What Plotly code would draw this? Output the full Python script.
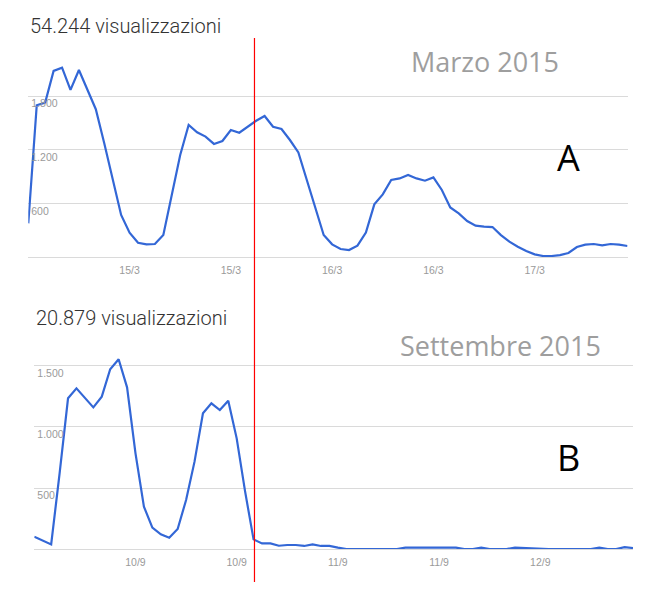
#!/usr/bin/env python3
"""
Two hourly view charts (March vs September 2015) stacked, with a red marker line.
"""

import plotly.graph_objects as go
from plotly.subplots import make_subplots

# Hourly views, 72 hours per chart
HOURS = list(range(72))

VIEWS_MARZO = [
    377, 1700, 1730, 2085, 2122, 1872, 2096, 1883, 1656, 1275,
    863, 471, 273, 160, 142, 146, 247, 695, 1143, 1480,
    1398, 1349, 1267, 1300, 1423, 1393, 1460, 1527, 1580, 1460,
    1434, 1311, 1172, 863, 553, 246, 142, 90, 78, 127,
    273, 590, 702, 863, 881, 919, 881, 855, 892, 751,
    556, 489, 403, 351, 340, 336, 246, 172, 116, 67,
    30, 11, 11, 22, 45, 112, 138, 146, 131, 146,
    138, 123,
]

VIEWS_SETTEMBRE = [
    101, 71, 38, 620, 1235, 1317, 1240, 1161, 1249, 1473,
    1555, 1325, 784, 347, 175, 120, 93, 164, 402, 716,
    1112, 1194, 1139, 1216, 907, 470, 79, 46, 46, 27,
    33, 33, 25, 38, 25, 25, 11, 0, 0, 0,
    0, 0, 0, 0, 11, 11, 14, 14, 15, 11,
    11, 0, 0, 11, 0, 0, 0, 11, 8, 0,
    0, 0, 0, 0, 0, 0, 0, 11, 0, 0,
    15, 8,
]

# Tick positions / labels (every 12 hours)
TICK_HOURS = [12, 24, 36, 48, 60]
TICKS_MARZO = ["15/3", "15/3", "16/3", "16/3", "17/3"]
TICKS_SETTEMBRE = ["10/9", "10/9", "11/9", "11/9", "12/9"]

Y_TICKS_MARZO = [600, 1200, 1800]
Y_TICKS_SETTEMBRE = [500, 1000, 1500]

TOTAL_MARZO = "54.244 visualizzazioni"
TOTAL_SETTEMBRE = "20.879 visualizzazioni"

MARKER_HOUR = 26.8

LINE_BLUE = "#3367d6"
GRID = "#dadada"
TICK_GREY = "#9a9a9a"

fig = make_subplots(rows=2, cols=1)

fig.add_trace(go.Scatter(x=HOURS, y=VIEWS_MARZO, mode="lines",
                         line=dict(color=LINE_BLUE, width=2.2), showlegend=False),
              row=1, col=1)
fig.add_trace(go.Scatter(x=HOURS, y=VIEWS_SETTEMBRE, mode="lines",
                         line=dict(color=LINE_BLUE, width=2.2), showlegend=False),
              row=2, col=1)

tick_font = dict(family="Liberation Sans, Arial", size=10.5, color=TICK_GREY)

# page body has an 8px margin, so the figure is 640x584 inside a 656x600 window
fig.update_layout(
    width=640, height=584,
    margin=dict(l=0, r=0, t=0, b=0),
    paper_bgcolor="white", plot_bgcolor="white",
    separators=",.",
    xaxis=dict(domain=[0.0317, 0.968], range=[0, 71], tickvals=TICK_HOURS,
               ticktext=TICKS_MARZO, showgrid=False, zeroline=False,
               showline=False, ticks="", ticklabelstandoff=5,
               tickfont=tick_font, anchor="y"),
    yaxis=dict(domain=[0.5736, 0.9098], range=[0, 2200], tickvals=Y_TICKS_MARZO,
               tickformat=",d", gridcolor=GRID, gridwidth=1, zeroline=True,
               zerolinecolor=GRID, zerolinewidth=1, ticklabelposition="inside bottom",
               tickfont=tick_font, anchor="x"),
    xaxis2=dict(domain=[0.0411, 0.9766], range=[0, 71], tickvals=TICK_HOURS,
                ticktext=TICKS_SETTEMBRE, showgrid=False, zeroline=False,
                showline=False, ticks="", ticklabelstandoff=5,
                tickfont=tick_font, anchor="y2"),
    yaxis2=dict(domain=[0.0736, 0.4079], range=[0, 1600], tickvals=Y_TICKS_SETTEMBRE,
                tickformat=",d", gridcolor=GRID, gridwidth=1, zeroline=True,
                zerolinecolor=GRID, zerolinewidth=1, ticklabelposition="inside bottom",
                tickfont=tick_font, anchor="x2"),
)

# red marker line crossing both charts
fig.add_shape(type="line", xref="x", yref="paper", x0=MARKER_HOUR, x1=MARKER_HOUR,
              y0=0.0171, y1=0.9486, line=dict(color="#ff0000", width=1.2))

title_font = dict(family="Roboto", size=20, color="#333333", weight=300)
month_font = dict(family="Open Sans", size=27, color="#9e9e9e")
letter_font = dict(family="Open Sans", size=36, color="#000000")

annotations = [
    dict(text=TOTAL_MARZO, x=0.03125, y=0.9692, xanchor="left", font=title_font),
    dict(text="Marzo 2015", x=0.7453, y=0.9084, xanchor="center", font=month_font),
    dict(text="A", x=0.875, y=0.744, xanchor="center", font=letter_font),
    dict(text=TOTAL_SETTEMBRE, x=0.0414, y=0.4692, xanchor="left", font=title_font),
    dict(text="Settembre 2015", x=0.7698, y=0.4221, xanchor="center", font=month_font),
    dict(text="B", x=0.8758, y=0.2303, xanchor="center", font=letter_font),
]
for a in annotations:
    fig.add_annotation(xref="paper", yref="paper", yanchor="middle",
                       showarrow=False, **a)

fig.write_html("out.html")
